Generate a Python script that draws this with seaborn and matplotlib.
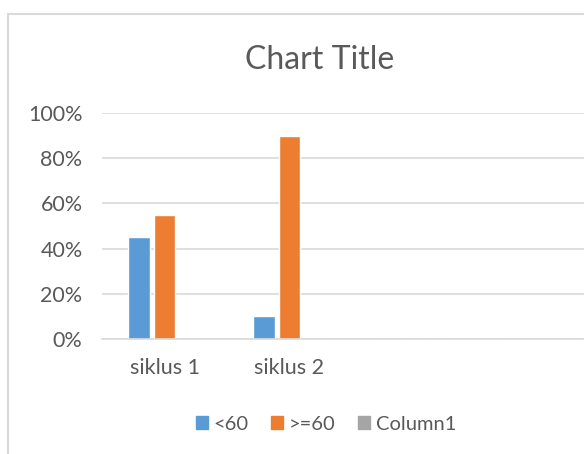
import numpy as np
import pandas as pd
import seaborn as sns
import matplotlib.pyplot as plt
from matplotlib.patches import Rectangle
from matplotlib.ticker import FuncFormatter

# data
categories = ["siklus 1", "siklus 2", "", " "]
series_names = ["<60", ">=60", "Column1"]
below_60 = [0.45, 0.10, 0.0, 0.0]
above_60 = [0.55, 0.90, 0.0, 0.0]
column1 = [0.0, 0.0, 0.0, 0.0]
yticks = [0.0, 0.2, 0.4, 0.6, 0.8, 1.0]

COLORS = {"<60": "#5B9BD5", ">=60": "#ED7D31", "Column1": "#A5A5A5"}
GRID = "#D9D9D9"
TEXT = "#595959"

sns.set_theme(style="white")
plt.rcParams["font.family"] = ["Lato", "DejaVu Sans"]

df = pd.DataFrame({
    "cat": categories * 3,
    "series": [series_names[0]] * 4 + [series_names[1]] * 4 + [series_names[2]] * 4,
    "value": below_60 + above_60 + column1,
})

fig = plt.figure(figsize=(5.84, 4.54), dpi=100)
W, H = 584, 454
# axes extends past the right edge like the cropped original
ax = fig.add_axes([102 / W, 1 - 339 / H, 500 / W, 226 / H])

sns.barplot(data=df, x="cat", y="value", hue="series", order=categories,
            hue_order=series_names, palette=COLORS, width=0.62, gap=0.15,
            saturation=1, legend=False, ax=ax)

ax.set_ylim(0, 1.0)
ax.set_xlim(-0.5, len(categories) - 0.5)
ax.set_yticks(yticks)
ax.yaxis.set_major_formatter(FuncFormatter(lambda v, _: f"{v:.0%}"))
ax.grid(axis="y", color=GRID, linewidth=1.2)
ax.set_axisbelow(True)
for s in ["top", "right", "left"]:
    ax.spines[s].set_visible(False)
ax.spines["bottom"].set_color(GRID)
ax.spines["bottom"].set_linewidth(1.2)
ax.tick_params(axis="both", length=0, labelsize=15.5, colors=TEXT)
ax.tick_params(axis="x", pad=14)
ax.tick_params(axis="y", pad=14)
ax.set_xlabel("")
ax.set_ylabel("")

fig.text(320 / W, 1 - 60 / H, "Chart Title", ha="center", va="center",
         fontsize=23, color=TEXT)

handles = [Rectangle((0, 0), 1, 1, color=COLORS[n]) for n in series_names]
fig.legend(handles, series_names, loc="center", bbox_to_anchor=(326 / W, 1 - 424 / H),
           ncol=3, frameon=False, fontsize=14.5, labelcolor=TEXT,
           handlelength=0.6, handleheight=0.6, handletextpad=0.3, columnspacing=1.1)

# chart border (left and top edges visible)
fig.add_artist(Rectangle((8 / W, -0.1), 1.2, 1 - 14 / H + 0.1, transform=fig.transFigure,
                         fill=False, edgecolor=GRID, linewidth=1.5))

fig.savefig("out.png", dpi=100)
